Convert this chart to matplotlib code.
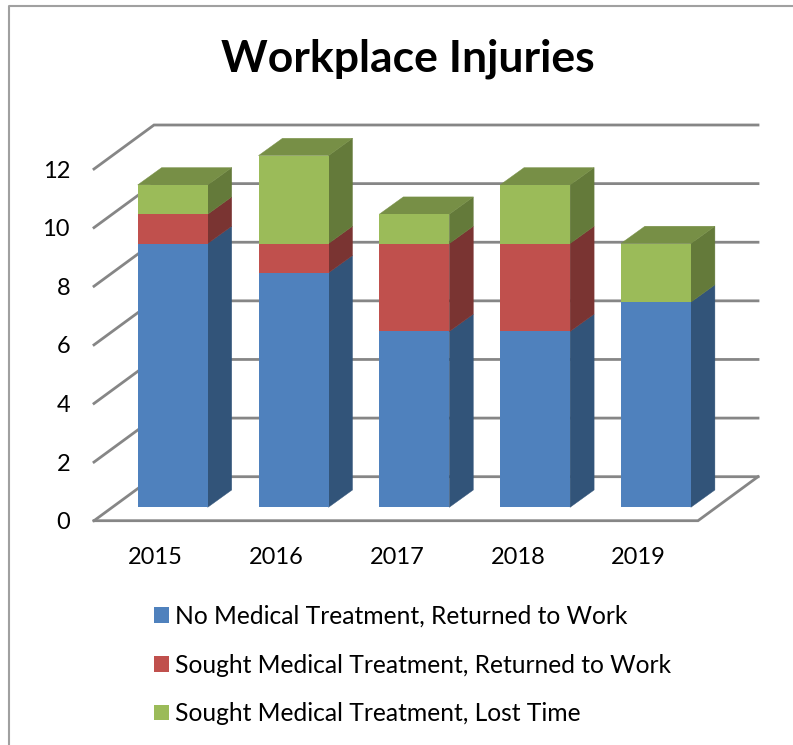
import matplotlib
matplotlib.use('Agg')
import matplotlib.pyplot as plt
from matplotlib.lines import Line2D
from matplotlib.patches import Patch, Polygon

years = ['2015', '2016', '2017', '2018', '2019']
no_treatment = [9, 8, 6, 6, 7]
treated_returned = [1, 1, 3, 3, 0]
treated_lost = [1, 3, 1, 2, 2]
y_ticks = [0, 2, 4, 6, 8, 10, 12]
series_names = ['No Medical Treatment, Returned to Work',
                'Sought Medical Treatment, Returned to Work',
                'Sought Medical Treatment, Lost Time']

W, H = 793, 745
plt.rcParams['font.family'] = ['Lato', 'DejaVu Sans']

# front, side, top colours per series
front_colors = ['#4F81BD', '#C0504D', '#9BBB59']
side_colors = ['#325479', '#7A3432', '#647A3A']
top_color = '#778F46'
grid_color = '#868686'
text_color = '#000000'

fig = plt.figure(figsize=(W / 100, H / 100), dpi=100)
# axes rectangle = front plane of the chart, in pixels from the top left
left, right, top, bottom = 94, 698, 169, 520.7
ax = fig.add_axes([left / W, 1 - bottom / H, (right - left) / W, (bottom - top) / H])
ax.set_xlim(0, 5)
ax.set_ylim(0, 12)
ax.axis('off')

# pixel sizes turned into data units
px_x = 5 / (right - left)
px_y = 12 / (bottom - top)
wall_dx, wall_dy = 60 * px_x, 44 * px_y
bar_dx, bar_dy = 24 * px_x, 17.3 * px_y
base_dx, base_dy = 18.3 * px_x, 13.4 * px_y
bar_w = 70 * px_x

# gridlines on the left wall and back wall
for t in y_ticks:
    ax.plot([0, wall_dx, 5 + wall_dx], [t, t + wall_dy, t + wall_dy],
            color=grid_color, lw=2, clip_on=False, zorder=1,
            solid_joinstyle='miter')
ax.plot([0, 5, 5 + wall_dx], [0, 0, wall_dy], color=grid_color, lw=2,
        clip_on=False, zorder=1, solid_joinstyle='miter')

# stacked bars with side and top faces
series = [no_treatment, treated_returned, treated_lost]
for i in range(len(years)):
    x0 = i + 0.5 + base_dx - bar_w / 2
    x1 = x0 + bar_w
    b = base_dy
    for vals, fc, sc in zip(series, front_colors, side_colors):
        v = vals[i]
        if v == 0:
            continue
        ax.bar(x0, v, width=bar_w, bottom=b, align='edge', color=fc,
               clip_on=False, zorder=3)
        ax.add_patch(Polygon([(x1, b), (x1 + bar_dx, b + bar_dy),
                              (x1 + bar_dx, b + v + bar_dy), (x1, b + v)],
                             facecolor=sc, edgecolor=sc, lw=0.3,
                             clip_on=False, zorder=2))
        b += v
    ax.add_patch(Polygon([(x0, b), (x0 + bar_dx, b + bar_dy),
                          (x1 + bar_dx, b + bar_dy), (x1, b)],
                         facecolor=top_color, edgecolor=top_color, lw=0.3,
                         clip_on=False, zorder=2))

# tick labels
for t in y_ticks:
    ax.annotate(str(t), (0, t), xytext=(-24, -2), textcoords='offset pixels',
                ha='right', va='center', fontsize=17, color=text_color,
                annotation_clip=False)
for i, year in enumerate(years):
    ax.annotate(year, (i + 0.5, 0), xytext=(1, -37), textcoords='offset pixels',
                ha='center', va='center', fontsize=17, color=text_color,
                annotation_clip=False)

fig.text(408 / W, 1 - 59 / H, 'Workplace Injuries', ha='center', va='center',
         fontsize=32, fontweight='bold', color=text_color)

handles = [Patch(facecolor=c, edgecolor='none') for c in front_colors]
fig.legend(handles, series_names, loc='upper left',
           bbox_to_anchor=(154 / W, 1 - 605 / H), frameon=False, fontsize=17.75,
           borderpad=0, borderaxespad=0, handlelength=0.6, handleheight=0.6,
           handletextpad=0.25, labelspacing=1.04, labelcolor=text_color)

# chart border, only the top and left edges are in the crop
fig.add_artist(Line2D([9 / W, 9 / W, 1], [0, 1 - 5.5 / H, 1 - 5.5 / H],
                      color='#a0a0a0', lw=1.5))

fig.savefig('out.png', dpi=100)
